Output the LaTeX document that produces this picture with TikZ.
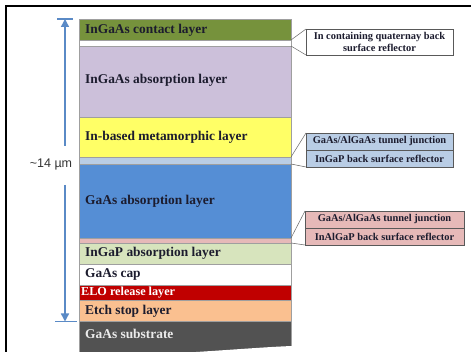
\documentclass[tikz,border=0pt]{standalone}
\usepackage{fontspec}
\setmainfont{Liberation Serif}
\newfontfamily\arialfont{Liberation Sans}
\usetikzlibrary{arrows.meta}
\definecolor{cgreen}{HTML}{76923C}
\definecolor{clav}{HTML}{CCC0DA}
\definecolor{cyel}{HTML}{FFFF66}
\definecolor{cltblue}{HTML}{B9CDE5}
\definecolor{cblue}{HTML}{558ED5}
\definecolor{cpink}{HTML}{E6B9B8}
\definecolor{cltgreen}{HTML}{D7E4BD}
\definecolor{cred}{HTML}{C00000}
\definecolor{corange}{HTML}{FAC090}
\definecolor{cgrey}{HTML}{525252}
\definecolor{ctext}{HTML}{1C1C2E}
\definecolor{carrow}{HTML}{5A8AC6}
\tikzset{
  layer/.style={draw=gray!75, line width=0.5pt, inner sep=0pt, outer sep=0pt, anchor=north west, minimum width=212pt},
  lbl/.style={anchor=west, inner sep=0pt, text=ctext, font=\fontsize{13.4}{15}\selectfont\bfseries},
  callbox/.style={draw=gray!70!black, line width=0.5pt, inner sep=0pt, outer sep=0pt, anchor=north west, align=center, font=\fontsize{10.4}{11.5}\selectfont\bfseries, text=ctext},
  callline/.style={draw=gray!80!black, line width=0.5pt},
  dimline/.style={draw=carrow, line width=1.4pt},
}
\begin{document}
\begin{tikzpicture}[x=1pt,y=-1pt]
\useasboundingbox (0,0) rectangle (471,352);
\fill[white] (0,0) rectangle (471,352);
% frame
\draw[line width=2pt] (6,352) -- (6,6) -- (471,6);
% layers
\node[layer, fill=cgreen, minimum height=21pt] (contact) at (79,19) {};
\node[layer, fill=white, minimum height=6pt] (bsrq) at (79,40) {};
\node[layer, fill=clav, minimum height=71pt] (ingaasabs) at (79,46) {};
\node[layer, fill=cyel, minimum height=40pt] (meta) at (79,117) {};
\node[layer, fill=cltblue, minimum height=7pt] (tja) at (79,157) {};
\node[layer, fill=cblue, minimum height=74pt] (gaasabs) at (79,164) {};
\node[layer, fill=cpink, minimum height=5pt] (tjb) at (79,238) {};
\node[layer, fill=cltgreen, minimum height=21pt] (ingap) at (79,243) {};
\node[layer, fill=white, minimum height=21pt] (cap) at (79,264) {};
\node[layer, fill=cred, minimum height=15pt] (elo) at (79,285) {};
\node[layer, fill=corange, minimum height=21pt] (etch) at (79,300) {};
\node[layer, fill=cgrey, minimum height=32pt] (sub) at (79,321) {};
\fill[white] (180,353) .. controls (230,350) and (265,347) .. (292,346) -- (292,353) -- cycle;
% labels
\node[lbl] (l1) at (85,30) {InGaAs contact layer};
\node[lbl] (l2) at (85,80.5) {InGaAs absorption layer};
\node[lbl] (l3) at (85,137) {In-based metamorphic layer};
\node[lbl] (l4) at (85,201) {GaAs absorption layer};
\node[lbl] (l5) at (85,253.5) {InGaP absorption layer};
\node[lbl] (l6) at (85,274.5) {GaAs cap};
\node[lbl, text=white, font=\fontsize{12.2}{14}\selectfont\bfseries] (l7) at (81,293) {ELO release layer};
\node[lbl] (l8) at (85,311) {Etch stop layer};
\node[lbl, text=white!92!black] (l9) at (85,334) {GaAs substrate};
% callouts
\node[callbox, fill=white, minimum width=147pt, minimum height=26pt] (c1) at (306,29) {In containing quaternay back\\surface reflector};
\node[callbox, fill=cltblue, minimum width=147pt, minimum height=17pt] (c2) at (306,133) {GaAs/AlGaAs tunnel junction};
\node[callbox, fill=cltblue, minimum width=147pt, minimum height=17pt] (c3) at (306,150) {InGaP back surface reflector};
\node[callbox, fill=cpink, minimum width=159pt, minimum height=17pt] (c4) at (305,211) {GaAs/AlGaAs tunnel junction};
\node[callbox, fill=cpink, minimum width=159pt, minimum height=17pt] (c5) at (305,228) {InAlGaP back surface reflector};
\draw[callline] (bsrq.north east) -- (c1.north west);
\draw[callline] (bsrq.south east) -- (c1.south west);
\draw[callline] (tja.north east) -- (c2.north west);
\draw[callline] (tja.south east) -- (c3.south west);
\draw[callline] (tjb.north east) -- (c4.north west);
\draw[callline] (tjb.south east) -- (c5.south west);
% dimension
\node[font=\arialfont\fontsize{12.5}{14}\selectfont, text=black!80, inner sep=0pt] (dim) at (51,165) {\textasciitilde 14 µm};
\coordinate (topbarL) at (57,19);
\coordinate (topbarR) at (73,19);
\coordinate (topbar) at (65,19);
\coordinate (upstart) at (65,146);
\coordinate (botbarL) at (55,321.5);
\coordinate (botbarR) at (77,321.5);
\coordinate (botbar) at (65,321.5);
\coordinate (downstart) at (65,185);
\draw[dimline] (topbarL) -- (topbarR);
\draw[dimline, -{Triangle[width=8pt,length=8pt]}] (upstart) -- (topbar);
\draw[dimline] (botbarL) -- (botbarR);
\draw[dimline, -{Triangle[width=8pt,length=8pt]}] (downstart) -- (botbar);
\end{tikzpicture}
\end{document}
